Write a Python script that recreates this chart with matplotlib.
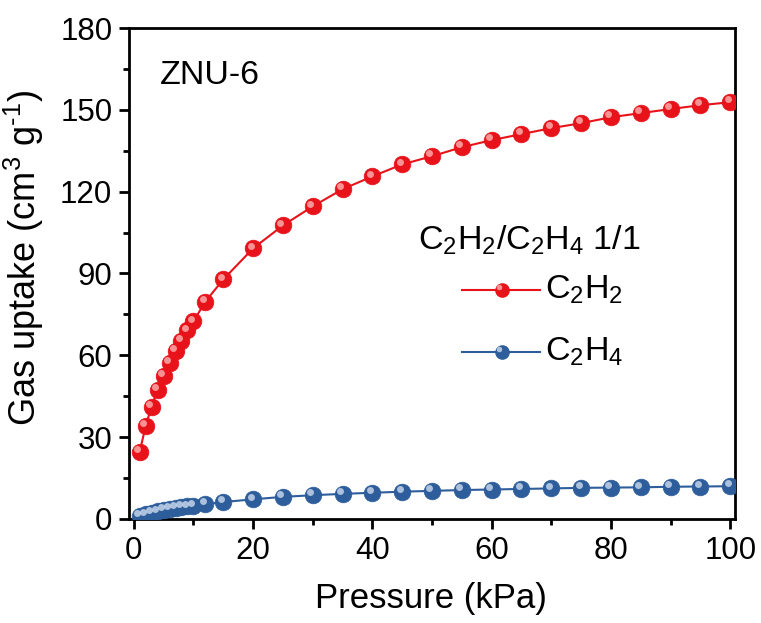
import matplotlib
matplotlib.use("Agg")
import matplotlib.pyplot as plt
import matplotlib.transforms as mtransforms
from matplotlib.ticker import MultipleLocator

plt.rcParams['font.family'] = ['Liberation Sans', 'DejaVu Sans']
plt.rcParams['mathtext.fontset'] = 'custom'
plt.rcParams['mathtext.rm'] = 'Liberation Sans'
plt.rcParams['mathtext.it'] = 'Liberation Sans'

pressure = [1, 2, 3, 4, 5, 6, 7, 8, 9, 10, 12, 15, 20, 25, 30, 35, 40, 45,
            50, 55, 60, 65, 70, 75, 80, 85, 90, 95, 100]
c2h2 = [24.6, 34.2, 41.2, 47.4, 52.5, 57.3, 61.7, 65.4, 69.1, 72.4, 79.7,
        87.8, 99.2, 107.6, 114.6, 120.9, 125.6, 130.0, 133.0, 136.3, 138.9,
        141.1, 143.3, 145.1, 147.3, 148.8, 150.3, 151.7, 152.8]
c2h4 = [1.0, 1.7, 2.3, 2.8, 3.2, 3.6, 4.0, 4.3, 4.6, 4.9, 5.4, 6.2, 7.2,
        8.1, 8.7, 9.2, 9.6, 10.0, 10.3, 10.6, 10.8, 11.0, 11.2, 11.4, 11.5,
        11.6, 11.8, 11.9, 12.0]

x_ticks = [0, 20, 40, 60, 80, 100]
y_ticks = [0, 30, 60, 90, 120, 150, 180]
series_labels = [r'C$_2$H$_2$', r'C$_2$H$_4$']
legend_title = r'C$_2$H$_2$/C$_2$H$_4$ 1/1'

red = '#e8121a'
blue = '#2e5d9b'
red_glow = '#ffb3b3'
blue_glow = '#cddbee'

fig = plt.figure(figsize=(7.61, 6.23), dpi=100)
ax = fig.add_axes([0.1695, 0.167, 0.7963, 0.788])


def shine_transform(base):
    return mtransforms.offset_copy(base, fig=fig, x=-1.8, y=2.0, units='points')


def sphere_series(x, y, color, glow):
    ax.plot(x, y, linestyle='-', color=color, lw=1.5, marker='o', ms=12,
            mfc=color, mec=color, mew=0.5, zorder=3)
    ax.plot(x, y, linestyle='none', marker='o', ms=5, mfc=glow, mec='none',
            alpha=0.8, transform=shine_transform(ax.transData), zorder=4)


sphere_series(pressure, c2h2, red, red_glow)
sphere_series(pressure, c2h4, blue, blue_glow)

ax.set_xlim(-0.8, 100.8)
ax.set_ylim(0, 180)
ax.set_xticks(x_ticks)
ax.set_yticks(y_ticks)
ax.xaxis.set_minor_locator(MultipleLocator(10))
ax.yaxis.set_minor_locator(MultipleLocator(15))
ax.tick_params(which='major', direction='out', length=7, width=2, labelsize=22.5,
               top=False, right=False, pad=5)
ax.tick_params(which='minor', direction='out', length=4, width=2,
               top=False, right=False)
for s in ax.spines.values():
    s.set_linewidth(2)

ax.set_xlabel('Pressure (kPa)', fontsize=25)
ax.set_ylabel('Gas uptake (cm$^3$ g$^{\u20101}$)', fontsize=26)
ax.xaxis.set_label_coords(0.498, -0.128)
ax.yaxis.set_label_coords(-0.137, 0.532)

ax.text(0.051, 0.904, 'ZNU-6', transform=ax.transAxes, fontsize=24.5, va='center')

# legend block: title plus a line/marker key for each series
ax.text(0.477, 0.568, legend_title, transform=ax.transAxes, fontsize=24.5,
        va='center')
key_rows = [0.466, 0.340]
for yk, color, glow, lab in zip(key_rows, [red, blue], [red_glow, blue_glow],
                                series_labels):
    ax.plot([0.549, 0.678], [yk, yk], color=color, lw=1.5,
            transform=ax.transAxes, clip_on=False)
    ax.plot([0.615], [yk], linestyle='none', marker='o', ms=9.5, mfc=color,
            mec=color, transform=ax.transAxes, clip_on=False, zorder=5)
    ax.plot([0.615], [yk], linestyle='none', marker='o', ms=4, mfc=glow,
            mec='none', alpha=0.8, transform=shine_transform(ax.transAxes),
            clip_on=False, zorder=6)
    ax.text(0.686, yk, lab, transform=ax.transAxes, fontsize=24.5, va='center')

fig.savefig('out.png', dpi=100)
